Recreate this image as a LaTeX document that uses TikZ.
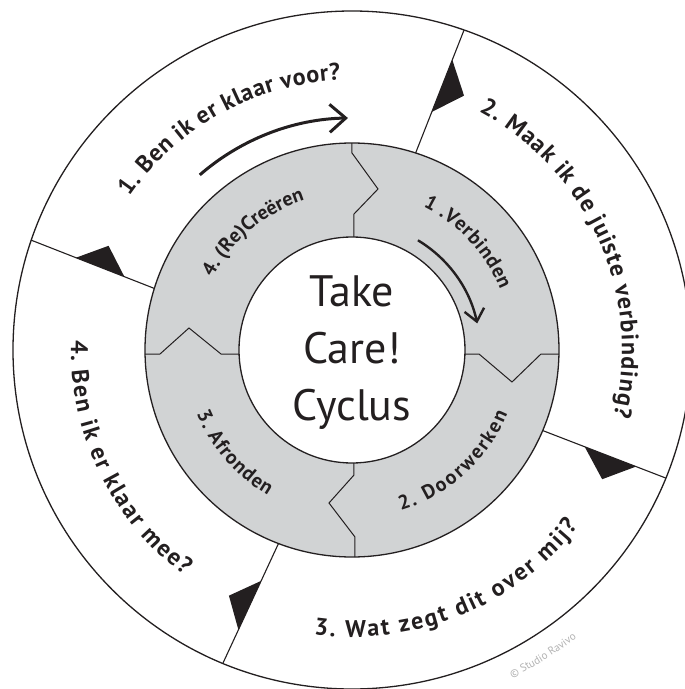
\documentclass[tikz,border=0pt]{standalone}
\usepackage{fontspec}
\setmainfont{PT Sans}
\usetikzlibrary{calc,arrows.meta,decorations.text}

\definecolor{ringgray}{RGB}{209,211,212}
\definecolor{inkblack}{RGB}{35,31,32}
% #1 = extra space in front of each letter
\newcommand\outerfont[1]{\bfseries\fontsize{24}{24}\selectfont\kern#1pt}
\newcommand\innerfont[1]{\bfseries\fontsize{20}{20}\selectfont\kern#1pt}

\begin{document}
\begin{tikzpicture} [
    x=1pt, y=1pt,
    circleline/.style = { draw=inkblack, line width=1.3pt },
    divider/.style    = { draw=inkblack, line width=1.1pt },
    flag/.style       = { fill=inkblack },
    zigzag/.style     = { draw=inkblack, line width=1pt },
    bigarrow/.style   = { draw=inkblack, line width=3pt,
                          -{Straight Barb[length=16pt,width=28pt]} },
    smallarrow/.style = { draw=inkblack, line width=2.4pt,
                          -{Straight Barb[length=12pt,width=20pt]} },
    outertext/.style 2 args = { decorate, decoration={text along path, text align=center,
                          text color=inkblack, text={|\outerfont{#1}|#2}} },
    innertext/.style 2 args = { decorate, decoration={text along path, text align=center,
                          text color=inkblack, text={|\innerfont{#1}|#2}} },
  ]

  \useasboundingbox (-352,-339) rectangle (333,350);

  % outer disc
  \coordinate (centre) at (0,0);
  \path [circleline, fill=white] (centre) circle[radius=339pt];

  % ends of the dividers
  \coordinate (in1)  at (72.1:207pt);
  \coordinate (out1) at (70.7:339pt);
  \coordinate (in2)  at (-22.9:207pt);
  \coordinate (out2) at (-22.2:339pt);
  \coordinate (in3)  at (-110.8:207pt);
  \coordinate (out3) at (-112.4:339pt);
  \coordinate (in4)  at (162.7:207pt);
  \coordinate (out4) at (161.1:339pt);

  % dividers and flags
  \path [divider] (in1) -- (out1);
  \path [divider] (in2) -- (out2);
  \path [divider] (in3) -- (out3);
  \path [divider] (in4) -- (out4);
  \fill [flag] ($(out1)!32pt!(in1)$) -- ($(out1)!88pt!(in1)$)
    -- ($(out1)!61pt!(in1)!24pt!90:(in1)$) -- cycle;
  \fill [flag] ($(out2)!32pt!(in2)$) -- ($(out2)!87pt!(in2)$)
    -- ($(out2)!59pt!(in2)!24pt!90:(in2)$) -- cycle;
  \fill [flag] ($(out3)!37pt!(in3)$) -- ($(out3)!91pt!(in3)$)
    -- ($(out3)!64pt!(in3)!23pt!90:(in3)$) -- cycle;
  \fill [flag] ($(out4)!48pt!(in4)$) -- ($(out4)!100pt!(in4)$)
    -- ($(out4)!74pt!(in4)!23pt!90:(in4)$) -- cycle;

  % grey ring with its joints
  \fill [ringgray, even odd rule] (centre) circle[radius=207pt]
    (centre) circle[radius=113pt];
  \path [zigzag] (0,207) -- (0,197) -- (26,161) -- (2,136) -- (2,113);
  \path [zigzag] (207,-4) -- (189,-4) -- (160,-32) -- (127,-4) -- (113,-4);
  \path [zigzag] (2,-113) -- (2,-125) -- (-23,-153) -- (3,-187) -- (3,-207);
  \path [zigzag] (-207,-4) -- (-192,-4) -- (-163,22) -- (-131,-4) -- (-113,-4);
  \path [circleline] (centre) circle[radius=207pt];
  \path [circleline, fill=white] (centre) circle[radius=113pt];

  \node [font=\fontsize{44}{57}\selectfont, align=center, text=inkblack]
    (title) at (0,-3) {Take\\Care!\\Cyclus};

  % questions on the outer ring
  \path [outertext={0.6}{1. Ben ik er klaar voor?}]
    (159:270pt) arc[start angle=159, end angle=79, radius=270pt];
  \path [outertext={1.1}{2. Maak ik de juiste verbinding?}]
    (74:270pt) arc[start angle=74, end angle=-26, radius=270pt];
  \path [outertext={2}{3. Wat zegt dit over mij?}]
    (-108:287pt) arc[start angle=-108, end angle=-28, radius=287pt];
  \path [outertext={1.7}{4. Ben ik er klaar mee?}]
    (165:281pt) arc[start angle=165, end angle=246, radius=281pt];

  % steps on the grey ring
  \path [innertext={0}{4. (Re)Creëren}]
    (170:157pt) arc[start angle=170, end angle=90, radius=157pt];
  \path [innertext={0.6}{1 .Verbinden}]
    (83:160pt) arc[start angle=83, end angle=3, radius=160pt];
  \path [innertext={2}{2. Doorwerken}]
    (-93:168pt) arc[start angle=-93, end angle=-3, radius=168pt];
  \path [innertext={1}{3. Afronden}]
    (176:168pt) arc[start angle=176, end angle=266, radius=168pt];

  % direction arrows
  \path [bigarrow] (131:232pt) arc[start angle=131, end angle=91, radius=232pt];
  \path [smallarrow] (59:128pt) arc[start angle=59, end angle=12, radius=128pt];

  % credit
  \path [decorate, decoration={text along path, text align=center, text color=gray!60,
    text={|\fontsize{11}{11}\selectfont|© Studio Ravivo}}]
    (-78:365pt) arc[start angle=-78, end angle=-38, radius=365pt];
\end{tikzpicture}
\end{document}
